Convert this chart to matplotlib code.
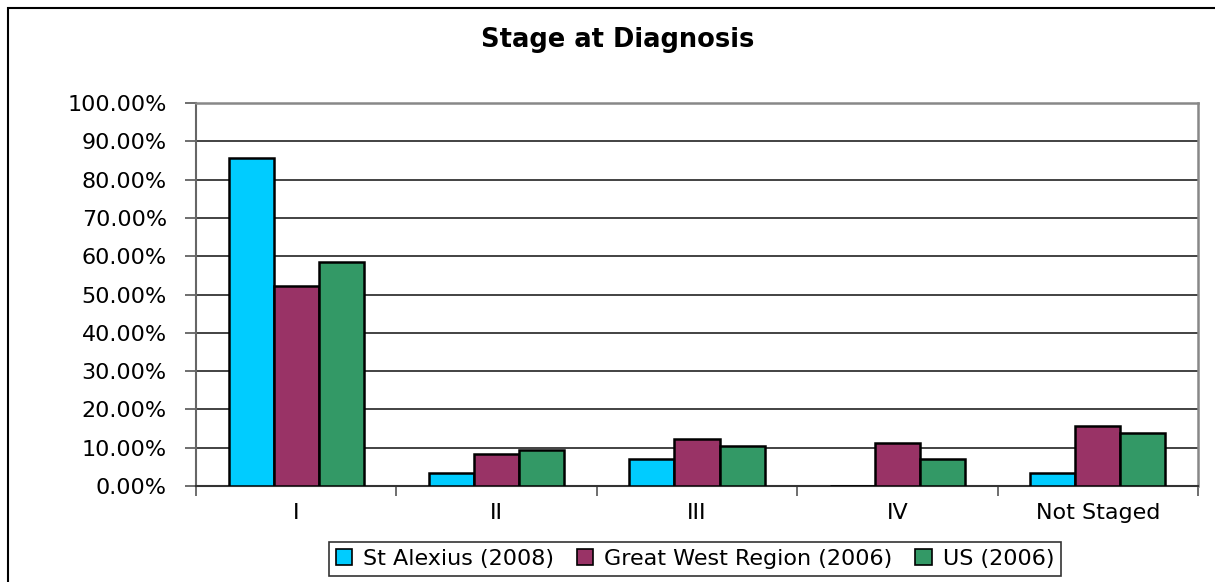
import matplotlib
matplotlib.use("Agg")
import matplotlib.pyplot as plt
from matplotlib.patches import Rectangle
from matplotlib.ticker import FuncFormatter, MultipleLocator
import numpy as np

# Share of cases by stage at diagnosis (%)
stages = ["I", "II", "III", "IV", "Not Staged"]
st_alexius = [85.7, 3.4, 7.0, 0.0, 3.4]
great_west = [52.2, 8.3, 12.3, 11.2, 15.8]
us_2006 = [58.5, 9.3, 10.4, 7.0, 13.8]

series = [
    ("St Alexius (2008)", st_alexius, "#00CCFF"),
    ("Great West Region (2006)", great_west, "#993366"),
    ("US (2006)", us_2006, "#339966"),
]

plt.rcParams["font.family"] = ["DejaVu Sans"]

fig = plt.figure(figsize=(12.15, 5.82), dpi=100)
ax = fig.add_axes([0.1613, 0.1649, 0.8247, 0.6581])

x = np.arange(len(stages))
width = 0.225
for i, (name, vals, color) in enumerate(series):
    ax.bar(x + (i - 1) * width, vals, width, color=color, edgecolor="black",
           linewidth=1.8, label=name, zorder=3)

ax.set_xlim(-0.5, len(stages) - 0.5)
ax.set_ylim(0, 100)
ax.yaxis.set_major_locator(MultipleLocator(10))
ax.yaxis.set_major_formatter(FuncFormatter(lambda v, p: f"{v:.2f}%"))
ax.grid(axis="y", color="#222222", linewidth=1.2, zorder=0)

# category labels centred, tick marks between categories
ax.set_xticks(x)
ax.set_xticklabels(stages, fontsize=16)
ax.tick_params(axis="x", length=0, pad=12)
ax.set_xticks(np.arange(-0.5, len(stages)), minor=True)
ax.tick_params(axis="x", which="minor", length=7, width=1.2, color="#555555",
               direction="out")
ax.tick_params(axis="y", length=8, width=1.2, color="#555555", labelsize=16,
               pad=13)

for side in ["top", "right"]:
    ax.spines[side].set_color("#888888")
    ax.spines[side].set_linewidth(1.8)
ax.spines["left"].set_color("#666666")
ax.spines["left"].set_linewidth(1.5)
ax.spines["bottom"].set_color("#333333")
ax.spines["bottom"].set_linewidth(1.5)

fig.text(0.508, 0.931, "Stage at Diagnosis", ha="center", va="center",
         fontsize=18.5, fontweight="bold")

leg = fig.legend(loc="center", bbox_to_anchor=(0.572, 0.0395), ncol=3,
                 fontsize=16, frameon=True, fancybox=False, edgecolor="black",
                 handlelength=0.75, handleheight=0.75, handletextpad=0.5,
                 columnspacing=1.0, borderpad=0.3, borderaxespad=0)
leg.get_frame().set_linewidth(1.2)
for h in leg.legend_handles:
    h.set_linewidth(1.2)

# chart border, running off the right and bottom edges
fig.patches.append(Rectangle((8 / 1215, -0.05), 1.2, 1 - 8 / 582 + 0.05,
                             transform=fig.transFigure, fill=False,
                             edgecolor="black", linewidth=1.5))

fig.savefig("out.png", dpi=100)
